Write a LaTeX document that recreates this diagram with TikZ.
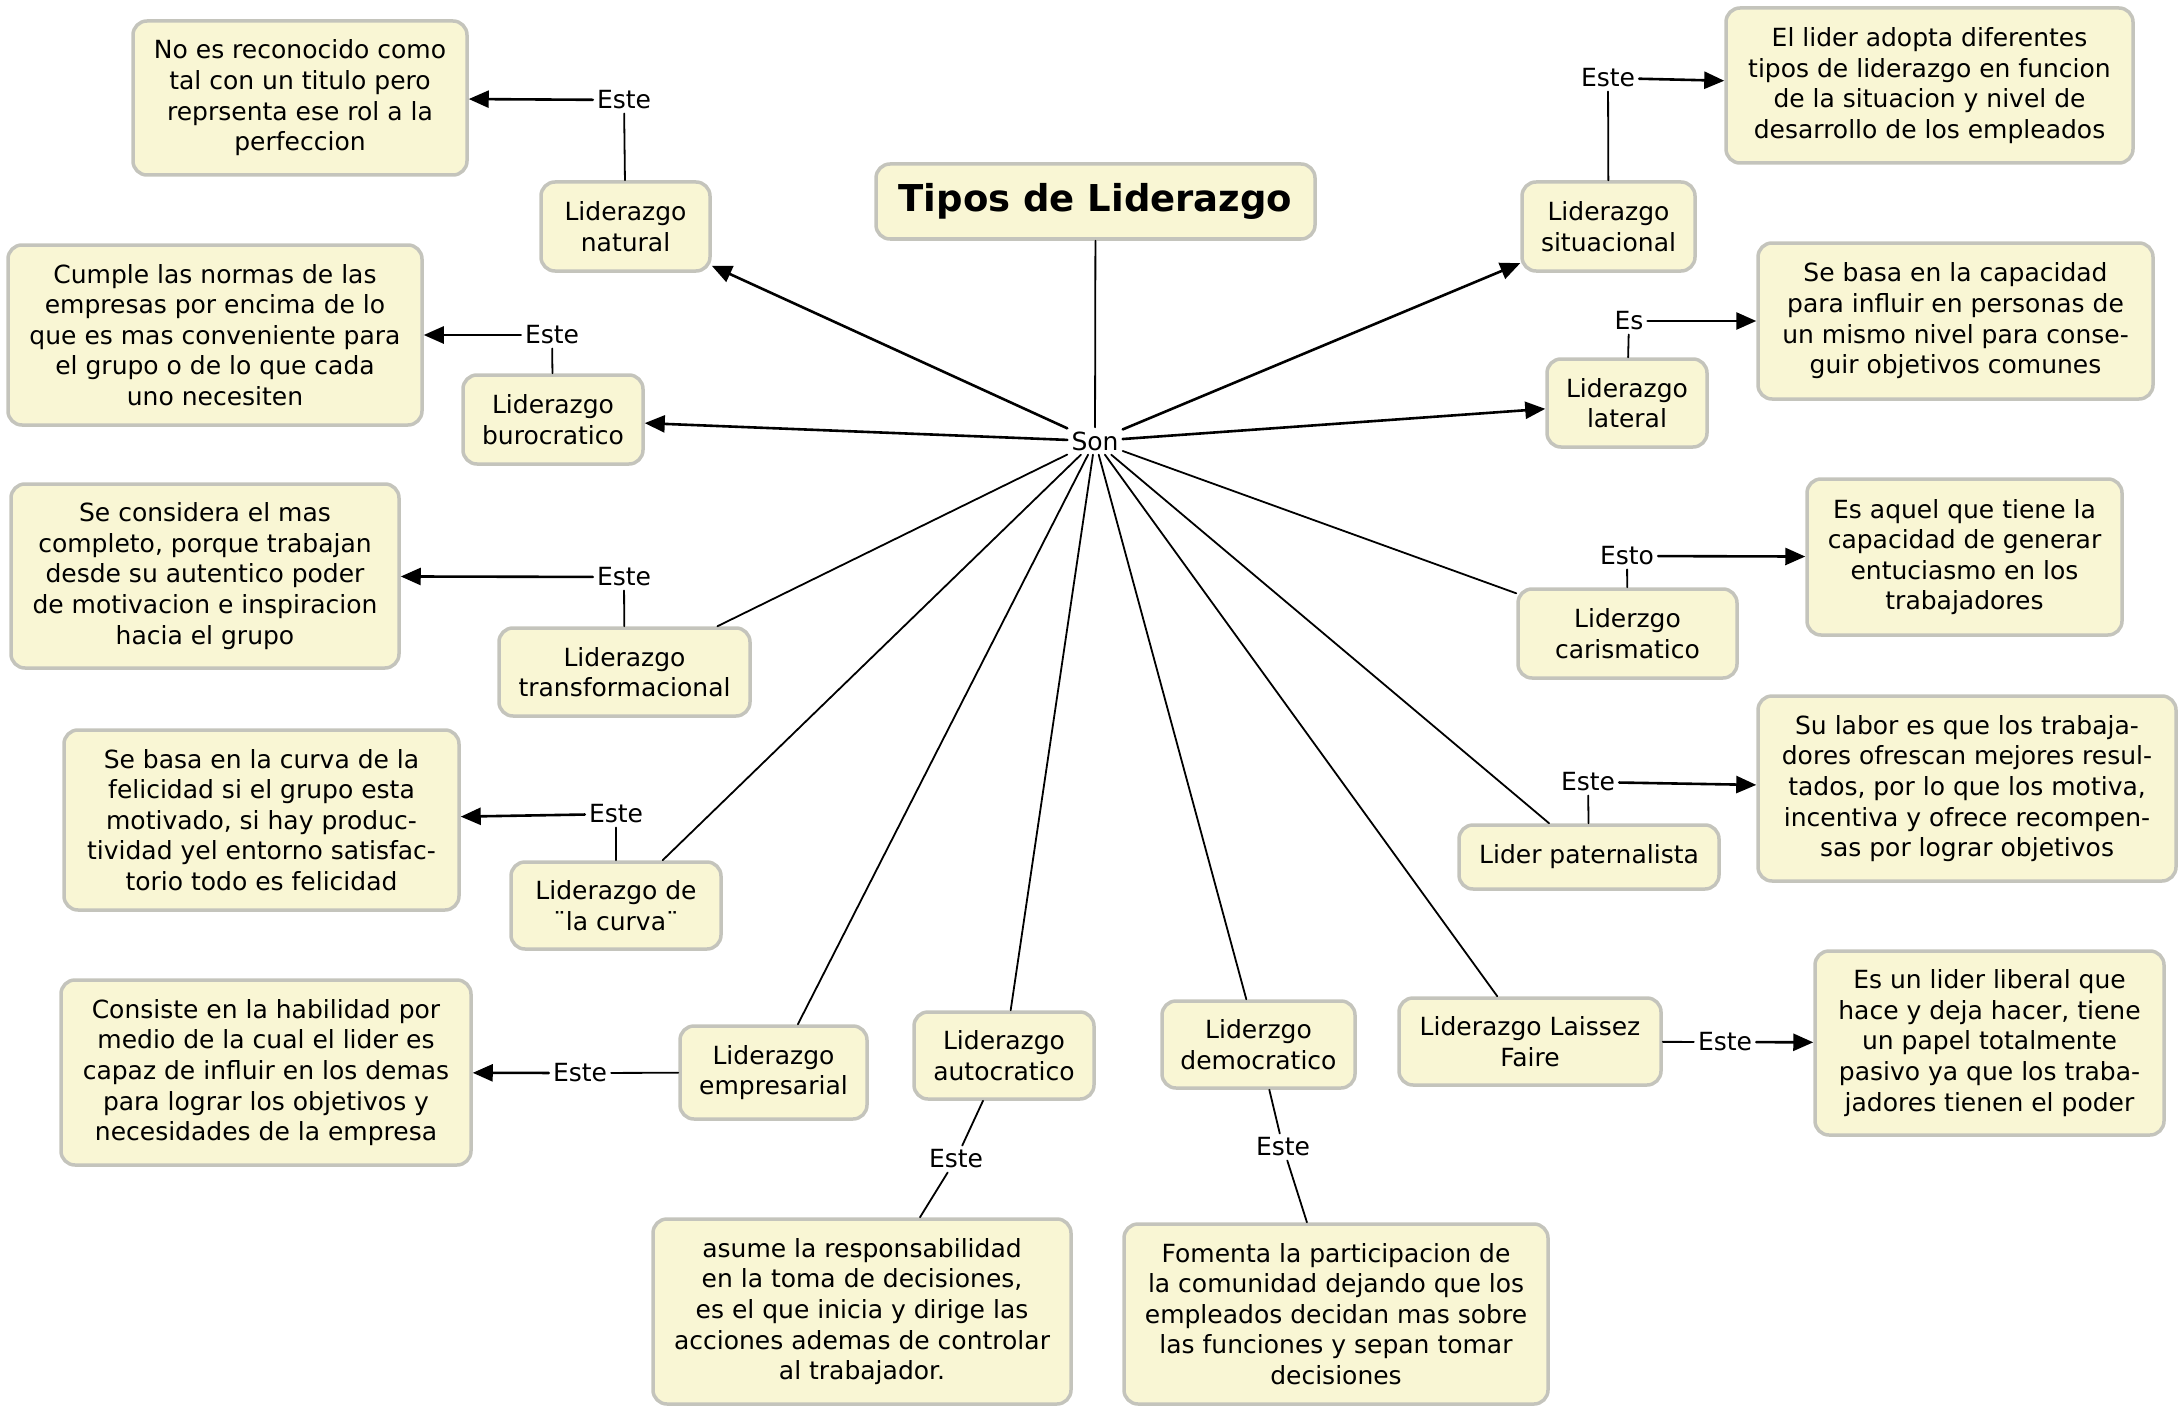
\documentclass[tikz,border=0pt]{standalone}
\usepackage{fontspec}
\setmainfont{DejaVu Sans}
\usetikzlibrary{arrows.meta}
\definecolor{boxfill}{RGB}{249,246,212}
\definecolor{boxline}{RGB}{196,196,188}

\begin{document}
\begin{tikzpicture}[x=1pt,y=-1pt,line cap=round,line join=round,>={Triangle[length=20pt,width=17pt]},
  concept/.style={draw=boxline,line width=3.5pt,fill=boxfill,rounded corners=14pt,align=center,inner sep=0pt,font=\fontsize{25}{30.6}\selectfont},
  link/.style={inner sep=4pt,font=\fontsize{25}{30.6}\selectfont},
  conn/.style={line width=1.8pt},
  arr/.style={->,line width=2.6pt}]
\useasboundingbox (0,0) rectangle (2179,1407);
\node[concept,minimum width=439,minimum height=75,font=\fontsize{37}{44}\selectfont\bfseries] (title) at (1095.5,201.5) {Tipos de Liderazgo};
\node[link] (son) at (1095,441) {Son};
% tipos
\node[concept,minimum width=169,minimum height=89] (natural) at (625.5,226.5) {Liderazgo\\natural};
\node[concept,minimum width=180,minimum height=89] (burocratico) at (553,419.5) {Liderazgo\\burocratico};
\node[concept,minimum width=251,minimum height=88] (transform) at (624.5,672) {Liderazgo\\transformacional};
\node[concept,minimum width=210,minimum height=87] (curva) at (616,905.5) {Liderazgo de\\¨la curva¨};
\node[concept,minimum width=187,minimum height=93] (empresarial) at (773.5,1072.5) {Liderazgo\\empresarial};
\node[concept,minimum width=180,minimum height=87] (autocratico) at (1004,1055.5) {Liderazgo\\autocratico};
\node[concept,minimum width=193,minimum height=87] (democratico) at (1258.5,1044.5) {Liderzgo\\democratico};
\node[concept,minimum width=262,minimum height=87] (laissez) at (1530,1041.5) {Liderazgo Laissez\\Faire};
\node[concept,minimum width=260,minimum height=64] (paternal) at (1589,857) {Lider paternalista};
\node[concept,minimum width=219,minimum height=89] (carisma) at (1627.5,633.5) {Liderzgo\\carismatico};
\node[concept,minimum width=160,minimum height=88] (lateral) at (1627,403) {Liderazgo\\lateral};
\node[concept,minimum width=173,minimum height=89] (situacional) at (1608.5,226.5) {Liderazgo\\situacional};
% descripciones
\node[concept,minimum width=334,minimum height=154] (dnatural) at (300,98) {No es reconocido como\\tal con un titulo pero\\reprsenta ese rol a la\\perfeccion};
\node[concept,minimum width=414,minimum height=180] (dburocratico) at (215,335) {Cumple las normas de las\\empresas por encima de lo\\que es mas conveniente para\\el grupo o de lo que cada\\uno necesiten};
\node[concept,minimum width=388,minimum height=184] (dtransform) at (205,576) {Se considera el mas\\completo, porque trabajan\\desde su autentico poder\\de motivacion e inspiracion\\hacia el grupo};
\node[concept,minimum width=395,minimum height=180] (dcurva) at (261.5,820) {Se basa en la curva de la\\felicidad si el grupo esta\\motivado, si hay produc-\\tividad yel entorno satisfac-\\torio todo es felicidad};
\node[concept,minimum width=410,minimum height=185] (dempresarial) at (266,1072.5) {Consiste en la habilidad por\\medio de la cual el lider es\\capaz de influir en los demas\\para lograr los objetivos y\\necesidades de la empresa};
\node[concept,minimum width=418,minimum height=185] (dautocratico) at (862,1311.5) {asume la responsabilidad\\en la toma de decisiones,\\es el que inicia y dirige las\\acciones ademas de controlar\\al trabajador.};
\node[concept,minimum width=424,minimum height=180] (ddemocratico) at (1336,1314) {Fomenta la participacion de\\la comunidad dejando que los\\empleados decidan mas sobre\\las funciones y sepan tomar\\decisiones};
\node[concept,minimum width=349,minimum height=184] (dlaissez) at (1989.5,1043) {Es un lider liberal que\\hace y deja hacer, tiene\\un papel totalmente\\pasivo ya que los traba-\\jadores tienen el poder};
\node[concept,minimum width=418,minimum height=185] (dpaternal) at (1967,788.5) {Su labor es que los trabaja-\\dores ofrescan mejores resul-\\tados, por lo que los motiva,\\incentiva y ofrece recompen-\\sas por lograr objetivos};
\node[concept,minimum width=315,minimum height=156] (dcarisma) at (1964.5,557) {Es aquel que tiene la\\capacidad de generar\\entuciasmo en los\\trabajadores};
\node[concept,minimum width=395,minimum height=156] (dlateral) at (1955.5,321) {Se basa en la capacidad\\para influir en personas de\\un mismo nivel para conse-\\guir objetivos comunes};
\node[concept,minimum width=407,minimum height=155] (dsituacional) at (1929.5,85.5) {El lider adopta diferentes\\tipos de liderazgo en funcion\\de la situacion y nivel de\\desarrollo de los empleados};
% frases de enlace
\node[link] (enatural) at (624,100) {Este};
\node[link] (eburocratico) at (552,335) {Este};
\node[link] (etransform) at (624,577) {Este};
\node[link] (ecurva) at (616,814) {Este};
\node[link] (eempresarial) at (580,1073) {Este};
\node[link] (eautocratico) at (956,1159) {Este};
\node[link] (edemocratico) at (1283,1147) {Este};
\node[link] (elaissez) at (1725,1042) {Este};
\node[link] (epaternal) at (1588,782) {Este};
\node[link] (ecarisma) at (1627,556) {Esto};
\node[link] (elateral) at (1629,321) {Es};
\node[link] (esituacional) at (1608,78) {Este};

\draw[conn] (title) -- (son);
\draw[arr] (son) -- (natural);
\draw[arr] (son) -- (burocratico);
\draw[arr] (son) -- (situacional);
\draw[arr] (son) -- (lateral);
\foreach \t in {transform,curva,empresarial,autocratico,democratico,laissez,paternal,carisma}
  \draw[conn] (son) -- (\t);
\foreach \t in {natural,burocratico,transform,curva,empresarial,laissez,paternal,carisma,lateral,situacional}
{
  \draw[conn] (\t) -- (e\t);
  \draw[arr] (e\t) -- (d\t);
}
\draw[conn] (autocratico) -- (eautocratico);
\draw[conn] (eautocratico) -- (dautocratico);
\draw[conn] (democratico) -- (edemocratico);
\draw[conn] (edemocratico) -- (ddemocratico);
\end{tikzpicture}
\end{document}
